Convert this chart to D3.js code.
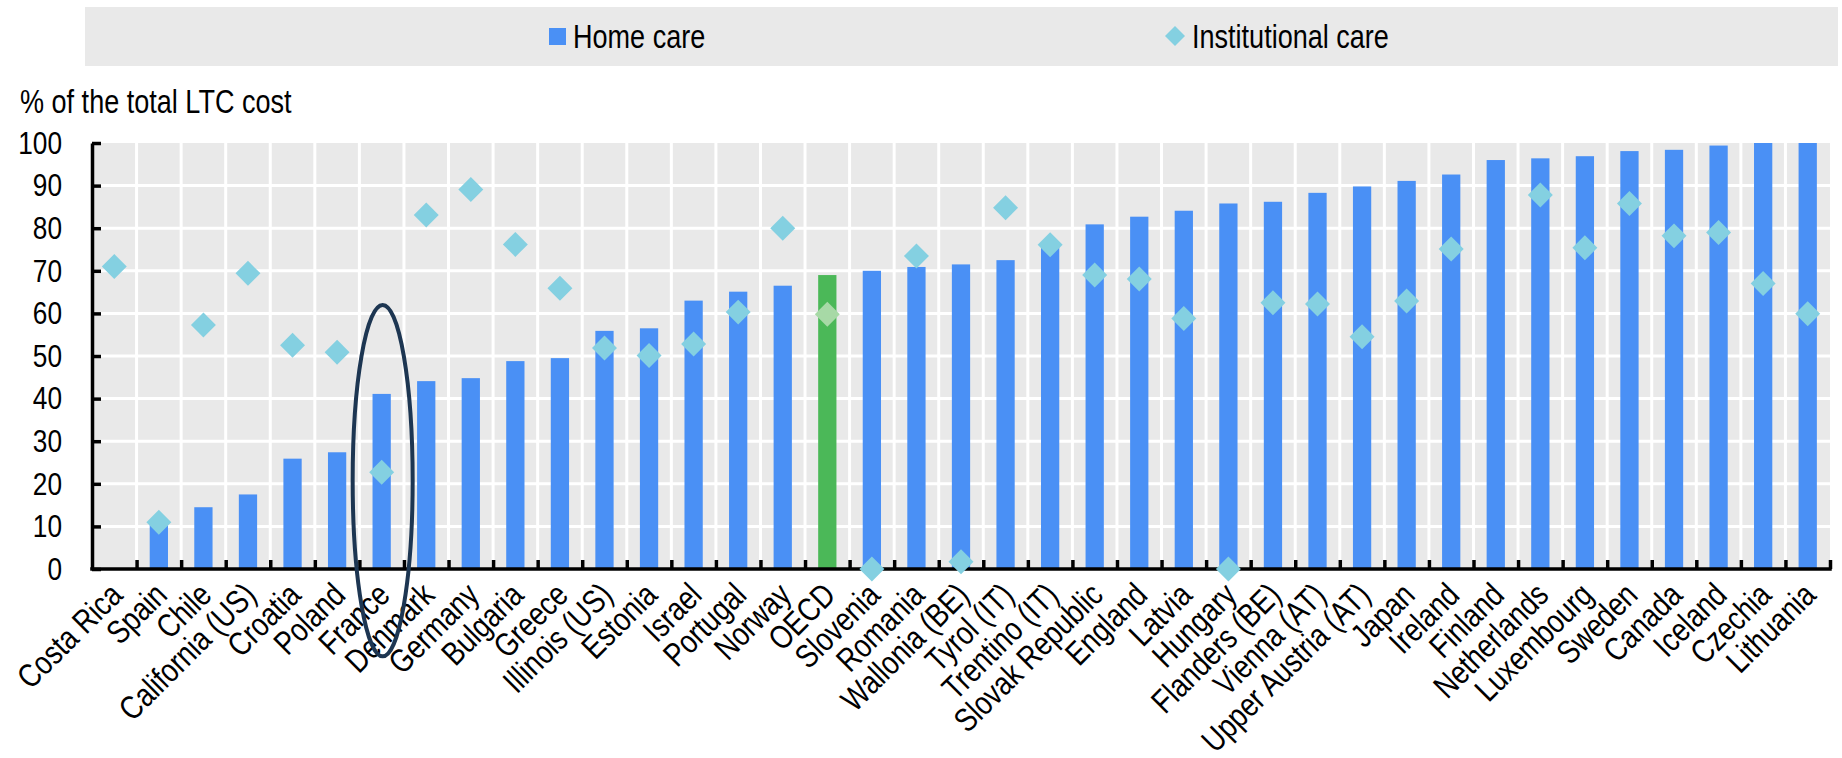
<!DOCTYPE html>
<html>
<head>
<meta charset="utf-8">
<script src="https://cdn.jsdelivr.net/npm/d3@7"></script>
<style>
  html, body { margin: 0; padding: 0; background: #ffffff; }
  svg { display: block; }
  text { font-family: "Liberation Sans", Arial, sans-serif; fill: #000; }
</style>
</head>
<body>
<svg id="chart" width="1842" height="758"></svg>
<script>
// ---------------- data ----------------
const categories = ["Costa Rica","Spain","Chile","California (US)","Croatia","Poland","France","Denmark","Germany","Bulgaria","Greece","Illinois (US)","Estonia","Israel","Portugal","Norway","OECD","Slovenia","Romania","Wallonia (BE)","Tyrol (IT)","Trentino (IT)","Slovak Republic","England","Latvia","Hungary","Flanders (BE)","Vienna (AT)","Upper Austria (AT)","Japan","Ireland","Finland","Netherlands","Luxembourg","Sweden","Canada","Iceland","Czechia","Lithuania"];
const homeCare = [null,10.3,14.5,17.5,25.9,27.4,41.1,44.1,44.8,48.8,49.5,55.9,56.5,63.0,65.1,66.5,69.0,70.0,70.9,71.5,72.5,75.8,80.9,82.7,84.1,85.8,86.2,88.3,89.8,91.1,92.6,96.0,96.4,96.9,98.1,98.4,99.4,100,100];
const institutionalCare = [71.0,11.0,57.3,69.4,52.5,50.9,22.7,83.1,89.1,76.2,65.9,51.9,50.1,52.8,60.3,80.0,59.8,0,73.5,1.7,84.8,76.1,69.0,68.1,58.8,0,62.5,62.2,54.5,62.9,75.1,null,87.8,75.4,85.8,78.2,79.0,67.0,59.9];
const yTicks = [0,10,20,30,40,50,60,70,80,90,100];
const seriesNames = ["Home care","Institutional care"];
const highlightCategory = "OECD";
const circledCategory = "France";
const yAxisTitle = "% of the total LTC cost";

// ---------------- styles ----------------
const C = {
  bar: "#4a90f5",
  barHighlight: "#4bb858",
  diamond: "#84d0e1",
  diamondHighlight: "#a7d9a6",
  panel: "#e9e9e9",
  grid: "#ffffff",
  axis: "#000000",
  ellipse: "#1d3652"
};
const NARROW = 0.82; // horizontal condensing to mimic Arial Narrow

const W = 1842, H = 758;
const plot = { left: 92, right: 1830, top: 143, bottom: 569 };

const svg = d3.select("#chart");

// helper: condensed text placed at (px, py) in parent coords
function narrowText(parent, px, py, str, size, anchor) {
  return parent.append("text")
    .attr("transform", `translate(${px},${py}) scale(${NARROW},1)`)
    .attr("text-anchor", anchor || "start")
    .style("font-size", size + "px")
    .text(str);
}

// ---------------- scales ----------------
const x = d3.scaleBand().domain(categories).range([plot.left, plot.right]).paddingInner(0).paddingOuter(0);
const y = d3.scaleLinear().domain([0, 100]).range([plot.bottom, plot.top]);
const idx = d3.scaleLinear().domain([0, categories.length]).range([plot.left, plot.right]);
const barW = x.bandwidth() * 0.41;

// ---------------- legend ----------------
const legend = svg.append("g");
legend.append("rect").attr("x", 85).attr("y", 7).attr("width", 1753).attr("height", 59).attr("fill", C.panel);
const lg1 = legend.append("g").attr("transform", "translate(549,28)");
lg1.append("rect").attr("x", 0).attr("y", 0).attr("width", 17).attr("height", 17).attr("fill", C.bar);
narrowText(lg1, 24, 19.5, seriesNames[0], 33);
const lg2 = legend.append("g").attr("transform", "translate(1175,36)");
lg2.append("path").attr("d", d3.symbol().type(d3.symbolSquare).size(200)()).attr("transform", "rotate(45)").attr("fill", C.diamond);
narrowText(lg2, 17, 11.5, seriesNames[1], 33);

// ---------------- axis title ----------------
narrowText(svg, 20, 113, yAxisTitle, 33);

// ---------------- panel + grid ----------------
svg.append("rect").attr("x", plot.left).attr("y", plot.top).attr("width", plot.right - plot.left).attr("height", plot.bottom - plot.top).attr("fill", C.panel);
const grid = svg.append("g");
grid.selectAll("line.h").data(yTicks.filter(t => t > 0 && t < 100)).join("line")
  .attr("x1", plot.left).attr("x2", plot.right)
  .attr("y1", d => y(d)).attr("y2", d => y(d))
  .attr("stroke", C.grid).attr("stroke-width", 3);
grid.selectAll("line.v").data(d3.range(1, categories.length)).join("line")
  .attr("x1", d => idx(d)).attr("x2", d => idx(d))
  .attr("y1", plot.top).attr("y2", plot.bottom)
  .attr("stroke", C.grid).attr("stroke-width", 3);

// ---------------- bars ----------------
const rows = categories.map((c, i) => ({ c, home: homeCare[i], inst: institutionalCare[i] }));
svg.append("g").selectAll("rect").data(rows.filter(d => d.home != null)).join("rect")
  .attr("x", d => x(d.c) + (x.bandwidth() - barW) / 2)
  .attr("width", barW)
  .attr("y", d => y(d.home))
  .attr("height", d => y(0) - y(d.home))
  .attr("fill", d => d.c === highlightCategory ? C.barHighlight : C.bar);

// ---------------- axes ----------------
const yAxis = svg.append("g").attr("transform", `translate(${plot.left},0)`)
  .call(d3.axisLeft(y).tickValues(yTicks).tickSize(-9).tickPadding(30).tickSizeOuter(0));
yAxis.select(".domain").attr("stroke", C.axis).attr("stroke-width", 3.5);
yAxis.selectAll(".tick line").attr("stroke", C.axis).attr("stroke-width", 3.5);
yAxis.selectAll(".tick text")
  .style("font-size", "32px").attr("fill", "#000")
  .attr("transform", `scale(${NARROW},1)`)
  .attr("x", -30 / NARROW);

const xTicks = svg.append("g").attr("transform", `translate(0,${plot.bottom})`)
  .call(d3.axisBottom(idx).tickValues(d3.range(1, categories.length + 1)).tickSize(-9).tickSizeOuter(0).tickFormat(""));
xTicks.select(".domain").remove();
xTicks.selectAll(".tick line").attr("stroke", C.axis).attr("stroke-width", 3.5);
svg.append("line").attr("x1", plot.left - 1.75).attr("x2", plot.right + 1.75).attr("y1", plot.bottom).attr("y2", plot.bottom)
  .attr("stroke", C.axis).attr("stroke-width", 3.5);

const xAxis = svg.append("g").attr("transform", `translate(0,${plot.bottom})`)
  .call(d3.axisBottom(x).tickSize(0).tickPadding(0));
xAxis.select(".domain").remove();
xAxis.selectAll(".tick text")
  .style("font-size", "33px")
  .attr("fill", "#000")
  .attr("text-anchor", "end")
  .attr("dy", null).attr("y", null)
  .attr("transform", `translate(10,28) rotate(-45) scale(${NARROW},1)`);

// ---------------- diamonds ----------------
const diamondPath = d3.symbol().type(d3.symbolSquare).size(312)();
svg.append("g").selectAll("path").data(rows.filter(d => d.inst != null)).join("path")
  .attr("d", diamondPath)
  .attr("transform", d => `translate(${x(d.c) + x.bandwidth() / 2},${y(d.inst)}) rotate(45)`)
  .attr("fill", d => d.c === highlightCategory ? C.diamondHighlight : C.diamond);

// ---------------- ellipse annotation ----------------
const eTop = y(62), eBot = y(-20.5);
svg.append("ellipse")
  .attr("cx", x(circledCategory) + x.bandwidth() / 2 + 1)
  .attr("cy", (eTop + eBot) / 2)
  .attr("rx", 30).attr("ry", (eBot - eTop) / 2)
  .attr("fill", "none").attr("stroke", C.ellipse).attr("stroke-width", 4);
</script>
</body>
</html>
